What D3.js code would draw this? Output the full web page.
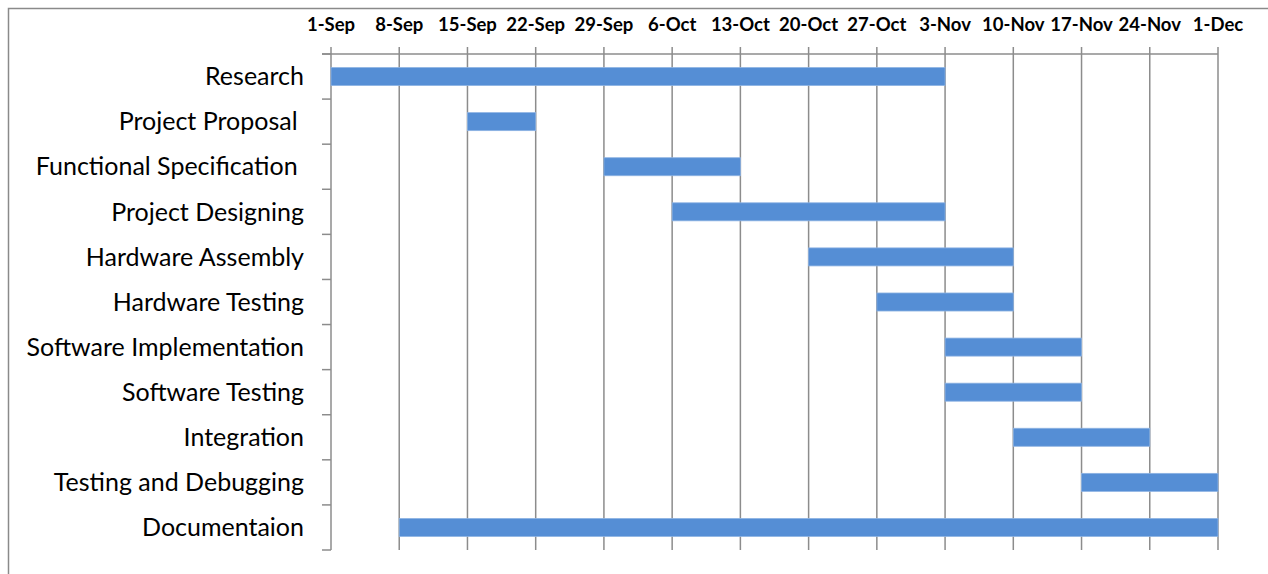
<!DOCTYPE html>
<html>
<head>
<meta charset="utf-8">
<script src="https://cdn.jsdelivr.net/npm/d3@7"></script>
<style>
  body { margin: 0; background: #fff; }
  svg { display: block; }
  .task-label { font-family: Lato, sans-serif; font-size: 25px; fill: #000; white-space: pre; }
  .date-label { font-family: Lato, sans-serif; font-size: 18.5px; font-weight: bold; fill: #000; }
</style>
</head>
<body>
<div id="chart"></div>
<script>
// Task data
const tasks = [
    "Research", "Project Proposal ", "Functional Specification ", "Project Designing",
    "Hardware Assembly", "Hardware Testing", "Software Implementation", "Software Testing",
    "Integration", "Testing and Debugging", "Documentaion"
];
const startDates = [
    "2014-09-01", "2014-09-15", "2014-09-29", "2014-10-06",
    "2014-10-20", "2014-10-27", "2014-11-03", "2014-11-03",
    "2014-11-10", "2014-11-17", "2014-09-08"
];
const endDates = [
    "2014-11-03", "2014-09-22", "2014-10-13", "2014-11-03",
    "2014-11-10", "2014-11-10", "2014-11-17", "2014-11-17",
    "2014-11-24", "2014-12-01", "2014-12-01"
];
const tickDates = [
    "2014-09-01", "2014-09-08", "2014-09-15", "2014-09-22", "2014-09-29",
    "2014-10-06", "2014-10-13", "2014-10-20", "2014-10-27", "2014-11-03",
    "2014-11-10", "2014-11-17", "2014-11-24", "2014-12-01"
];

const parse = d3.timeParse("%Y-%m-%d");
const fmt = d3.timeFormat("%-d-%b");

const W = 1268, H = 574;
const plot = { left: 331, right: 1218, top: 54, bottom: 550 };

const svg = d3.select("#chart").append("svg")
    .attr("width", W)
    .attr("height", H);

// outer frame
svg.append("rect")
    .attr("x", 8.5).attr("y", 8.5)
    .attr("width", W + 20).attr("height", H + 20)
    .attr("fill", "none")
    .attr("stroke", "#8a8a8a")
    .attr("stroke-width", 1.5);

const x = d3.scaleTime()
    .domain([parse(tickDates[0]), parse(tickDates[tickDates.length - 1])])
    .range([plot.left, plot.right]);

const y = d3.scaleBand()
    .domain(tasks)
    .range([plot.top, plot.bottom])
    .paddingInner(0.6)
    .paddingOuter(0.3);

const ticks = tickDates.map(parse);

// vertical gridlines, with small tick extension above the top line
svg.append("g").selectAll("line")
    .data(ticks)
    .join("line")
    .attr("x1", d => x(d)).attr("x2", d => x(d))
    .attr("y1", plot.top - 7).attr("y2", plot.bottom)
    .attr("stroke", "#8c8c8c")
    .attr("stroke-width", 1.5);

// top axis line
svg.append("line")
    .attr("x1", plot.left - 9).attr("x2", plot.right)
    .attr("y1", plot.top).attr("y2", plot.top)
    .attr("stroke", "#8c8c8c")
    .attr("stroke-width", 1.5);

// top date labels
svg.append("g").selectAll("text")
    .data(ticks)
    .join("text")
    .attr("class", "date-label")
    .attr("x", d => x(d))
    .attr("y", 31)
    .attr("text-anchor", "middle")
    .text(d => fmt(d));

// left category axis ticks at band boundaries
const step = (plot.bottom - plot.top) / tasks.length;
const bounds = d3.range(tasks.length + 1).map(i => plot.top + i * step);
svg.append("g").selectAll("line")
    .data(bounds)
    .join("line")
    .attr("x1", plot.left - 9).attr("x2", plot.left)
    .attr("y1", d => d).attr("y2", d => d)
    .attr("stroke", "#8c8c8c")
    .attr("stroke-width", 1.5);

// bars
svg.append("g").selectAll("rect")
    .data(tasks)
    .join("rect")
    .attr("x", (d, i) => x(parse(startDates[i])))
    .attr("y", d => y(d))
    .attr("width", (d, i) => x(parse(endDates[i])) - x(parse(startDates[i])))
    .attr("height", y.bandwidth())
    .attr("fill", "#558ed5")
    .attr("stroke", "#8eb3e3")
    .attr("stroke-width", 0.8);

// task labels (trailing spaces kept, as in the source)
svg.append("g").selectAll("text")
    .data(tasks)
    .join("text")
    .attr("class", "task-label")
    .attr("x", 304)
    .attr("y", d => y(d) + y.bandwidth() / 2)
    .attr("dy", "0.35em")
    .attr("text-anchor", "end")
    .text(d => d);
</script>
</body>
</html>
